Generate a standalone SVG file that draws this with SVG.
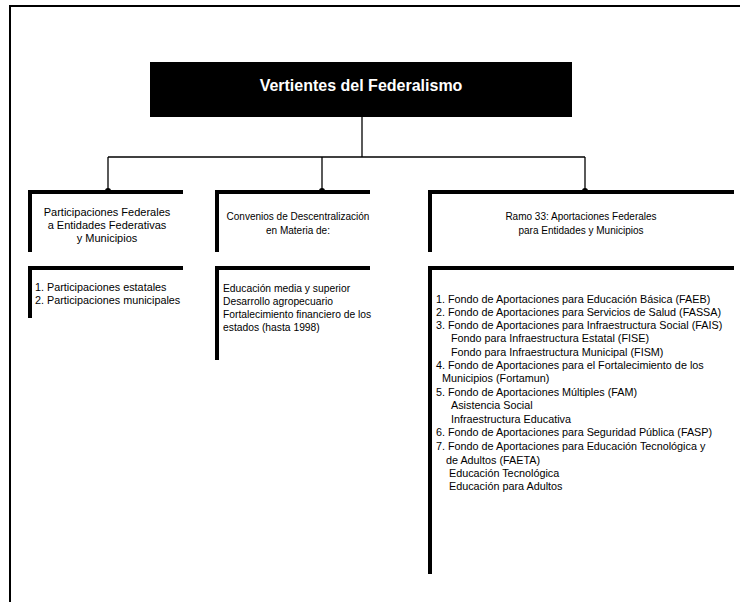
<svg xmlns="http://www.w3.org/2000/svg" width="740" height="602" viewBox="0 0 740 602">
<style>
.frame{fill:none;stroke:#000;stroke-width:2}
.bar{fill:none;stroke:#000;stroke-width:4;stroke-linecap:butt}
.conn{fill:none;stroke:#000;stroke-width:1.3}
.dot{fill:#000}
.t{font-family:"Liberation Sans",Arial,sans-serif;font-size:10.8px;fill:#000}
.h{font-family:"Liberation Sans",Arial,sans-serif;font-size:10px;fill:#000;text-anchor:middle}
.title{font-family:"Liberation Sans",Arial,sans-serif;font-size:16px;font-weight:bold;fill:#fff;text-anchor:middle}
</style>
<rect width="740" height="602" fill="#fff"/>
<path class="frame" d="M10,602 V6 H740"/>

<g id="title">
<rect x="150" y="62" width="422" height="55" fill="#000"/>
<text class="title" x="361" y="91">Vertientes del Federalismo</text>
</g>

<g id="connectors">
<path class="conn" d="M362,117 V157"/>
<path class="conn" d="M108,157 H585"/>
<path class="conn" d="M108,157 V192"/>
<path class="conn" d="M322,157 V192"/>
<path class="conn" d="M585,157 V192"/>
<circle class="dot" cx="108" cy="191" r="3"/>
<circle class="dot" cx="322" cy="191" r="3"/>
<circle class="dot" cx="585" cy="191" r="3"/>
</g>

<g id="participaciones-header">
<path class="bar" d="M30,252 V192 H183"/>
<text class="h" x="107" y="216" style="font-size:11px">Participaciones Federales</text>
<text class="h" x="107" y="229" style="font-size:11px">a Entidades Federativas</text>
<text class="h" x="107" y="242" style="font-size:11px">y Municipios</text>
</g>
<g id="participaciones-list">
<path class="bar" d="M30,318 V268 H183"/>
<text class="t" x="35" y="291">1. Participaciones estatales</text>
<text class="t" x="35" y="304">2. Participaciones municipales</text>
</g>

<g id="convenios-header">
<path class="bar" d="M217,252 V192 H370"/>
<text class="h" x="298" y="220">Convenios de  Descentralización</text>
<text class="h" x="298" y="234">en Materia de:</text>
</g>
<g id="convenios-list">
<path class="bar" d="M217,360 V268 H370"/>
<text class="t" x="223" y="292" style="font-size:10.3px">Educación media y superior</text>
<text class="t" x="223" y="305" style="font-size:10.3px">Desarrollo agropecuario</text>
<text class="t" x="223" y="318" style="font-size:10.3px">Fortalecimiento financiero de los</text>
<text class="t" x="223" y="331" style="font-size:10.3px">estados (hasta 1998)</text>
</g>

<g id="ramo33-header">
<path class="bar" d="M430,252 V192 H734"/>
<text class="h" x="581" y="220">Ramo 33: Aportaciones Federales</text>
<text class="h" x="581" y="234">para Entidades y Municipios</text>
</g>
<g id="ramo33-list">
<path class="bar" d="M430,574 V268 H734"/>
<text class="t" x="436" y="303">1. Fondo de Aportaciones para Educación Básica (FAEB)</text>
<text class="t" x="436" y="316">2. Fondo de Aportaciones para Servicios de Salud (FASSA)</text>
<text class="t" x="436" y="329">3. Fondo de Aportaciones para Infraestructura Social (FAIS)</text>
<text class="t" x="451" y="342">Fondo para Infraestructura Estatal (FISE)</text>
<text class="t" x="451" y="356">Fondo para Infraestructura Municipal (FISM)</text>
<text class="t" x="436" y="369">4. Fondo de Aportaciones para el Fortalecimiento de los</text>
<text class="t" x="442" y="382">Municipios (Fortamun)</text>
<text class="t" x="436" y="396">5. Fondo de Aportaciones Múltiples (FAM)</text>
<text class="t" x="451" y="409">Asistencia Social</text>
<text class="t" x="451" y="423">Infraestructura Educativa</text>
<text class="t" x="436" y="436">6. Fondo de Aportaciones para Seguridad Pública (FASP)</text>
<text class="t" x="436" y="450">7. Fondo de Aportaciones para Educación Tecnológica y</text>
<text class="t" x="446" y="464">de Adultos (FAETA)</text>
<text class="t" x="449" y="477">Educación Tecnológica</text>
<text class="t" x="449" y="490">Educación para Adultos</text>
</g>
</svg>
